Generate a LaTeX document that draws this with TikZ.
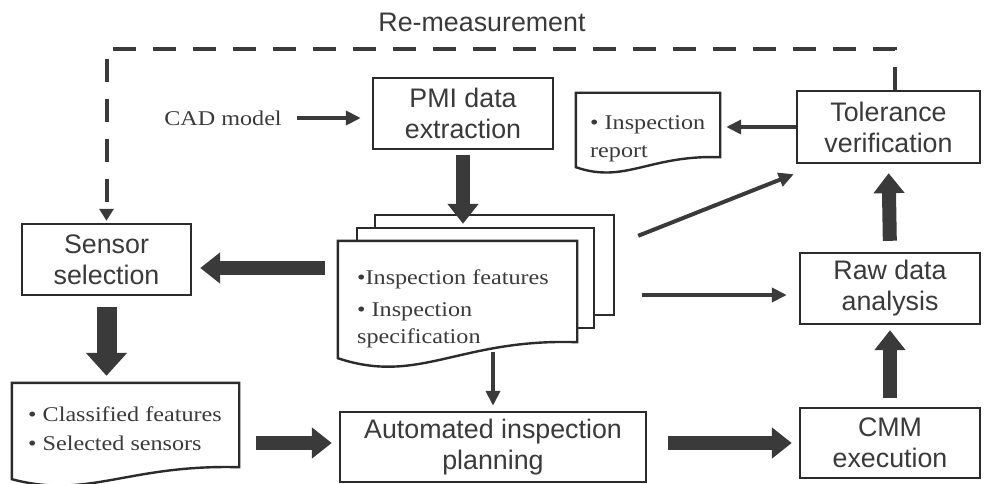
\documentclass[tikz,border=0pt]{standalone}
\usepackage{fontspec}
\setmainfont{Liberation Serif}
\setsansfont{Liberation Sans}
\newfontfamily\docfont[FakeStretch=1.15]{Liberation Serif}
\usetikzlibrary{arrows.meta,calc}
\definecolor{ink}{HTML}{3A3A3A}
\definecolor{boxline}{HTML}{2B2B2B}

\begin{document}
\begin{tikzpicture}[x=1pt,y=-1pt,
    box/.style={draw=boxline,line width=2.4pt,fill=white,inner sep=0,align=center,text=ink,font=\boxfontsize},
    page/.style={draw=boxline,line width=2.4pt,fill=white,inner sep=0},
    doctext/.style={inner sep=0,align=left,text=ink},
    thinarrow/.style={draw=ink,line width=4pt,-{Triangle[width=14pt,length=15pt]}},
    bigarrow/.style={draw=ink,line width=14pt,-{Triangle[width=30pt,length=20pt]}},
    dashline/.style={draw=ink,line width=4pt,dash pattern=on 23pt off 17pt,-{Triangle[width=14pt,length=12pt]}}]
    \providecommand{\boxfontsize}{\sffamily\fontsize{26.8}{31}\selectfont}
    \providecommand{\docfontsize}{\docfont\fontsize{21}{27}\selectfont}
    % document symbol with a wavy bottom edge
    \providecommand{\docshape}[2]{%
        \draw[page] ($(#1.south west)+(0,#2)$) -- (#1.north west) -- (#1.north east) -- (#1.south east)
        .. controls ($(#1.south east)!0.49!(#1.south west)+(0,-0.25*#2)$) and ($(#1.south east)!0.66!(#1.south west)+(0,2.7*#2)$) .. ($(#1.south west)+(0,#2)$) -- cycle;}
    \useasboundingbox (0,0) rectangle (985,484);

    \node[text=ink,inner sep=0,font=\boxfontsize] (remeas) at (482,22) {Re-measurement};
    \node[doctext,font=\docfontsize] (cad) at (223,118) {CAD model};

    % boxes
    \node[box,minimum width=180pt,minimum height=71pt] (pmi) at (463,113.5) {PMI data\\extraction};
    \node[box,minimum width=169pt,minimum height=71pt] (sensor) at (106.5,259.5) {Sensor\\selection};
    \node[box,minimum width=306pt,minimum height=70pt] (auto) at (493,447) {Automated inspection\\planning};
    \node[box,minimum width=180pt,minimum height=70pt] (cmm) at (890,443) {CMM\\execution};
    \node[box,minimum width=180pt,minimum height=71pt] (raw) at (890,288.5) {Raw data\\analysis};
    \node[box,minimum width=183pt,minimum height=72pt] (tol) at (888.5,127) {Tolerance\\verification};

    % stacked documents
    \node[page,minimum width=239pt,minimum height=100pt] (pageC) at (494.5,265) {};
    \node[page,minimum width=237pt,minimum height=100pt] (pageB) at (475.5,278) {};
    \node[inner sep=0,minimum width=239pt,minimum height=101pt] (front) at (457.5,291.5) {};
    \docshape{front}{16}
    \node[doctext,font=\docfontsize,anchor=north west] (feattext) at (357,270)
        {•Inspection features\\[5pt]• Inspection\\specification};

    \node[inner sep=0,minimum width=227pt,minimum height=84pt] (classdoc) at (125.5,425) {};
    \docshape{classdoc}{12}
    \node[doctext,font=\docfont\fontsize{21}{29}\selectfont,anchor=north west] (classtext) at (28,407)
        {• Classified features\\• Selected sensors};

    \node[inner sep=0,minimum width=144pt,minimum height=64pt] (repdoc) at (648,125) {};
    \docshape{repdoc}{10}
    \node[doctext,font=\docfont\fontsize{21}{28}\selectfont,anchor=north west] (reptext) at (590,115)
        {• Inspection\\report};

    % connectors
    \coordinate (sensorin) at ([yshift=-8.5pt]sensor.east);
    \coordinate (autoin) at ([yshift=4pt]auto.west);
    \coordinate (rawin) at ([yshift=-6.5pt]raw.west);
    \draw[thinarrow,shorten <=15pt,shorten >=11pt] (cad.east) -- (cad.east -| pmi.west);
    \draw[bigarrow,shorten <=5pt] (pmi.south) -- ([yshift=-10pt]pmi.south |- pageC.north);
    \draw[bigarrow,shorten <=13pt,shorten >=8pt] (front.west |- sensorin) -- (sensorin);
    \draw[bigarrow,line width=20pt,-{Triangle[width=40pt,length=23pt]},shorten <=11pt,shorten >=7pt] (sensor.south) -- (sensor.south |- classdoc.north);
    \draw[bigarrow,shorten <=17pt,shorten >=7pt] (classdoc.east |- autoin) -- (autoin);
    \draw[thinarrow,shorten <=10pt,shorten >=5pt] (auto.north |- front.south) -- (auto.north);
    \draw[bigarrow,shorten <=21pt,shorten >=7pt] (auto.east |- cmm.west) -- (cmm.west);
    \draw[bigarrow,shorten <=9pt,shorten >=5pt] (cmm.north) -- (raw.south);
    \draw[bigarrow,shorten <=11pt,shorten >=9pt] (raw.north) -- (tol.south);
    \draw[thinarrow,shorten >=6pt] (tol.west) -- (tol.west -| repdoc.east);
    \draw[thinarrow,shorten <=27pt,shorten >=12pt] (pageC.east |- rawin) -- (rawin);
    \draw[thinarrow] ([xshift=23pt,yshift=-22pt]pageC.north east) -- ([xshift=-2pt,yshift=-10pt]tol.south west);
    \draw[dashline,shorten >=2pt] ([xshift=6.5pt]tol.north) -- ++(0,-41) -| (sensor.north);
\end{tikzpicture}
\end{document}
